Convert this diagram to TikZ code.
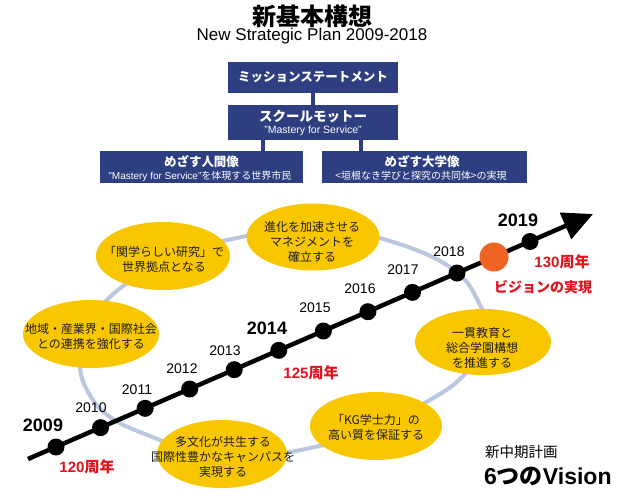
\documentclass[tikz,border=0pt]{standalone}
\usepackage{fontspec}
\setmainfont{Liberation Sans}
\newfontfamily\jp{Noto Sans CJK JP}
\usetikzlibrary{arrows.meta,shapes.geometric}
\definecolor{boxnavy}{RGB}{45,63,128}
\definecolor{visyellow}{RGB}{249,199,0}
\definecolor{ringblue}{RGB}{187,198,223}
\definecolor{vorange}{RGB}{240,100,35}
\definecolor{annred}{RGB}{226,18,30}
\definecolor{txtdark}{RGB}{30,30,30}
\newcommand{\fsz}[1]{\fontsize{#1}{#1}\selectfont}
\begin{document}
\begin{tikzpicture}[x=1pt,y=-1pt,
  txt/.style={inner sep=0, align=center, anchor=center},
  navybox/.style={fill=boxnavy, inner sep=0},
  boxtxt/.style={txt, text=white},
  navyconn/.style={draw=boxnavy, line width=4},
  vis/.style={ellipse, fill=visyellow, inner sep=0},
  vtxt/.style={txt, text=txtdark, font=\jp\fontsize{12}{15}\selectfont},
  dot/.style={circle, fill=black, inner sep=0, minimum size=17},
  yr/.style={txt, font=\fsz{14}},
  yrbig/.style={txt, font=\bfseries\fsz{18}},
  redtxt/.style={txt, text=annred, font=\bfseries\fsz{15}}]
\useasboundingbox (0,0) rectangle (625,498);
\fill[white] (0,0) rectangle (625,498);

% title
\node[txt, font=\jp\bfseries\fsz{24}] (title) at (312,16) {新基本構想};
\node[txt, font=\fsz{17}] (subtitle) at (312,36) {New Strategic Plan 2009-2018};

% boxes
\node[navybox, minimum width=170, minimum height=31] (mission) at (313,77) {};
\node[boxtxt, font=\jp\bfseries\fsz{12.5}] (missiont) at (313,77) {ミッションステートメント};
\node[navybox, minimum width=170, minimum height=35] (motto) at (313,122.5) {};
\node[boxtxt, font=\jp\bfseries\fsz{13.5}] (mottot) at (313,116.5) {スクールモットー};
\node[boxtxt, font=\fsz{10.5}] (mottos) at (313,130.5) {"Mastery for Service"};
\node[navybox, minimum width=203, minimum height=32] (human) at (201.5,167) {};
\node[boxtxt, font=\jp\bfseries\fsz{12.5}] (humant) at (201.5,162) {めざす人間像};
\node[boxtxt, font=\jp\fsz{10}] (humans) at (200,176) {{\normalfont"Mastery for Service"}を体現する世界市民};
\node[navybox, minimum width=205, minimum height=32] (univ) at (424.5,167) {};
\node[boxtxt, font=\jp\bfseries\fsz{12.5}] (univt) at (422,162) {めざす大学像};
\node[boxtxt, font=\jp\fsz{10}] (univs) at (421,176) {<垣根なき学びと探究の共同体>の実現};
\coordinate (lc) at (263,0);
\coordinate (rc) at (361,0);
\draw[navyconn] (mission.south) -- (motto.north);
\draw[navyconn] (motto.south -| lc) -- (human.north -| lc);
\draw[navyconn] (motto.south -| rc) -- (univ.north -| rc);

% ring
\draw[ringblue, line width=4] plot[smooth cycle, tension=0.7] coordinates {
  (237,238) (310,226) (380,238) (450,267) (480,305) (488,340) (465,374)
  (430,400) (370,430) (310,448) (250,456) (190,449) (150,436) (110,417)
  (87,390) (80,360) (88,325) (107,300) (135,278) (180,253)};

% vision ellipses
\node[vis, minimum width=133, minimum height=67] (e1) at (313,237) {};
\node[vtxt] (e1t) at (312,242) {進化を加速させる\\マネジメントを\\確立する};
\node[vis, minimum width=134, minimum height=68] (e2) at (163,256) {};
\node[vtxt] (e2t) at (164,259.5) {「関学らしい研究」で\\世界拠点となる};
\node[vis, minimum width=136, minimum height=68] (e3) at (91,334) {};
\node[vtxt] (e3t) at (91,336) {地域・産業界・国際社会\\との連携を強化する};
\node[vis, minimum width=136, minimum height=66] (e4) at (483,342) {};
\node[vtxt] (e4t) at (482,347.5) {一貫教育と\\総合学園構想\\を推進する};
\node[vis, minimum width=132, minimum height=68] (e5) at (376,426) {};
\node[vtxt] (e5t) at (376,427) {「KG学士力」の\\高い質を保証する};
\node[vis, minimum width=130, minimum height=68] (e6) at (222,454) {};
\node[vtxt] (e6t) at (223,457) {多文化が共生する\\国際性豊かなキャンパスを\\実現する};

% timeline
\coordinate (tstart) at (28,459);
\coordinate (ttip) at (593,214);
\draw[line width=4.5, -{Triangle[length=30pt,width=28pt]}] (tstart) -- (ttip);
\foreach \i in {0,...,9} {
  \node[dot] (y\i) at ({56+44.56*\i},{447-19.33*\i}) {};
}
\node[circle, fill=vorange, inner sep=0, minimum size=29] (vis) at (494,257) {};
\node[dot] (y10) at (530,241.5) {};

% year labels
\node[yrbig] (l2009) at (43,425) {2009};
\node[yr] (l2010) at (91,408) {2010};
\node[yr] (l2011) at (137,390) {2011};
\node[yr] (l2012) at (182,369) {2012};
\node[yr] (l2013) at (225,351) {2013};
\node[yrbig] (l2014) at (267,328) {2014};
\node[yr] (l2015) at (315,308) {2015};
\node[yr] (l2016) at (360,289) {2016};
\node[yr] (l2017) at (403,270) {2017};
\node[yr] (l2018) at (449,252) {2018};
\node[yrbig] (l2019) at (518,220) {2019};

% anniversary labels
\node[redtxt] (a120) at (87,467) {120{\jp 周年}};
\node[redtxt] (a125) at (311,373) {125{\jp 周年}};
\node[redtxt] (a130) at (562,262) {130{\jp 周年}};
\node[redtxt, font=\jp\bfseries\fsz{14}] (avis) at (543,287) {ビジョンの実現};

% bottom right
\node[txt, anchor=west, font=\jp\fsz{14.5}] (plan) at (485,452) {新中期計画};
\node[txt, anchor=west, font=\bfseries\fsz{23}] (vision) at (484,476) {6{\jp つの}Vision};
\end{tikzpicture}
\end{document}
